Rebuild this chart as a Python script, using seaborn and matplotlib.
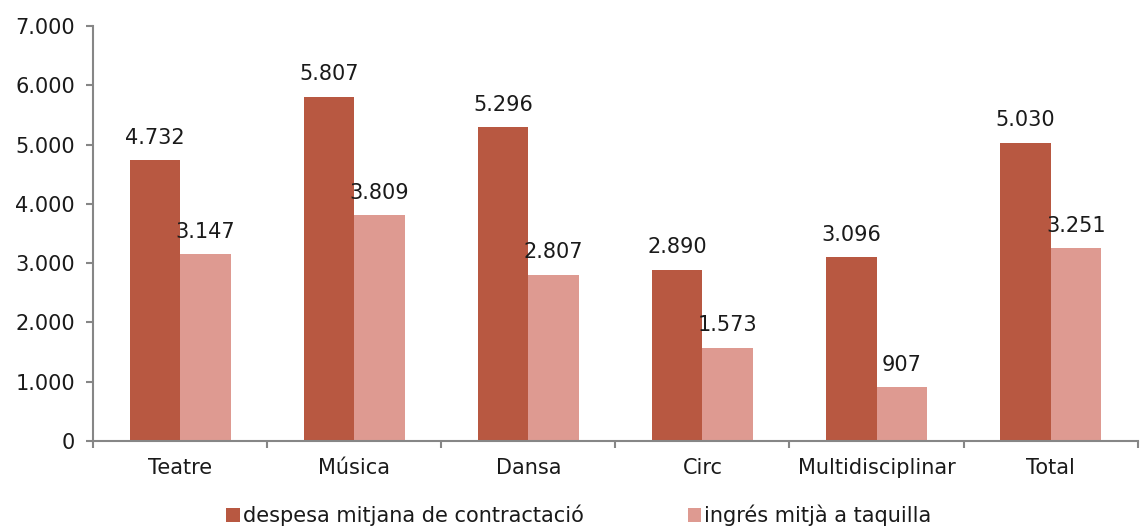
import matplotlib
matplotlib.use("Agg")
import matplotlib.pyplot as plt
import seaborn as sns
import pandas as pd
from matplotlib.ticker import FuncFormatter, FixedLocator

# Values
categories = ["Teatre", "Música", "Dansa", "Circ", "Multidisciplinar", "Total"]
despesa = [4732, 5807, 5296, 2890, 3096, 5030]
ingres = [3147, 3809, 2807, 1573, 907, 3251]
series_names = ["despesa mitjana de contractació", "ingrés mitjà a taquilla"]
colors = ["#B85841", "#DE9A91"]

df = pd.DataFrame({
    "categoria": categories * 2,
    "valor": despesa + ingres,
    "serie": [series_names[0]] * len(categories) + [series_names[1]] * len(categories),
})

sns.set_style("white")
plt.rcParams["font.family"] = ["DejaVu Sans"]

fig = plt.figure(figsize=(11.4, 5.31), dpi=100)
ax = fig.add_axes([0.0816, 0.1695, 0.9164, 0.7815])

sns.barplot(data=df, x="categoria", y="valor", hue="serie", palette=colors,
            width=0.58, saturation=1, linewidth=0, ax=ax,
            order=categories, hue_order=series_names)

fmt = lambda v: f"{int(round(v)):,}".replace(",", ".")
for cont in ax.containers:
    ax.bar_label(cont, labels=[fmt(b.get_height()) for b in cont], padding=9,
                 fontsize=15, color="#1a1a1a")

ax.set_ylim(0, 7000)
ax.set_xlim(-0.5, len(categories) - 0.5)
ax.set_yticks(range(0, 7001, 1000))
ax.yaxis.set_major_formatter(FuncFormatter(lambda v, p: fmt(v)))
ax.xaxis.set_minor_locator(FixedLocator([i - 0.5 for i in range(len(categories) + 1)]))
ax.tick_params(axis="x", which="major", length=0, pad=12, labelsize=15, labelcolor="#1a1a1a")
ax.tick_params(axis="x", which="minor", length=5, width=1.5, color="#868686", direction="out")
ax.tick_params(axis="y", length=5, width=1.5, color="#868686", direction="out",
               labelsize=15, labelcolor="#1a1a1a", pad=8)
ax.tick_params(bottom=True, left=True, which="both")

for s in ["top", "right"]:
    ax.spines[s].set_visible(False)
for s in ["left", "bottom"]:
    ax.spines[s].set_color("#868686")
    ax.spines[s].set_linewidth(1.5)

ax.set_xlabel("")
ax.set_ylabel("")
ax.legend(loc="lower center", bbox_to_anchor=(0.465, -0.25), ncol=2, frameon=False,
          fontsize=15, handlelength=0.65, handleheight=0.65, handletextpad=0.15,
          columnspacing=5.0, labelcolor="#1a1a1a")

fig.savefig("out.png", dpi=100)
